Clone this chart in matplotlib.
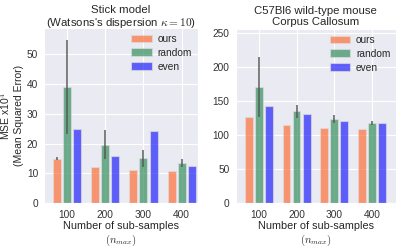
import numpy as np
import matplotlib
matplotlib.use("Agg")
import matplotlib.pyplot as plt
import seaborn as sns

sns.set_style("darkgrid")
plt.rcParams['font.family'] = ['Liberation Sans', 'DejaVu Sans']
plt.rcParams['mathtext.fontset'] = 'cm'

# sample sizes
n_max = ["100", "200", "300", "400"]

# Stick model (values x1e-4)
stick_ours = [15.0, 12.1, 11.3, 10.7]
stick_ours_err = [0.5, 0.0, 0.0, 0.0]
stick_random = [39.0, 19.6, 15.1, 13.4]
stick_random_lo = [23.3, 15.0, 12.3, 12.1]
stick_random_hi = [54.8, 24.6, 17.9, 14.8]
stick_even = [24.8, 16.0, 24.2, 12.5]

# Corpus callosum
cc_ours = [126.5, 115.0, 111.0, 108.8]
cc_random = [170.6, 135.3, 123.5, 118.0]
cc_random_lo = [127.4, 125.4, 117.6, 115.0]
cc_random_hi = [214.7, 144.0, 129.4, 121.0]
cc_even = [143.0, 131.8, 121.0, 118.0]

c_ours = "#ff6a33"
c_random = "#2e8b57"
c_even = "#1a1aff"
alpha = 0.68
w = 0.21
off = 0.265


def draw(ax, ours, ours_err, rnd, lo, hi, even):
    x = np.arange(len(n_max))
    rnd = np.array(rnd)
    rerr = [rnd - np.array(lo), np.array(hi) - rnd]
    ax.bar(x - off, ours, w, color=c_ours, alpha=alpha, label="ours",
           edgecolor="#dddddd", linewidth=0.8, zorder=2)
    ax.bar(x, rnd, w, color=c_random, alpha=alpha, label="random",
           edgecolor="#dddddd", linewidth=0.8, zorder=2)
    ax.bar(x + off, even, w, color=c_even, alpha=alpha, label="even",
           edgecolor="#dddddd", linewidth=0.8, zorder=2)
    if ours_err is not None:
        ax.errorbar(x - off, ours, yerr=ours_err, fmt="none", ecolor="#555555",
                    elinewidth=1.3, alpha=0.8, zorder=3)
    ax.errorbar(x, rnd, yerr=rerr, fmt="none", ecolor="#555555",
                elinewidth=1.3, alpha=0.8, zorder=3)
    ax.set_xticks(x)
    ax.set_xticklabels(n_max)
    ax.set_xlabel("Number of sub-samples\n$(n_{max})$", fontsize=7.8, labelpad=1)
    ax.tick_params(labelsize=7.3, pad=1, labelcolor="#333333")
    ax.legend(loc="upper right", frameon=False, fontsize=7.3,
              handlelength=2.0, handleheight=0.8, borderaxespad=0.15,
              labelspacing=0.38, handletextpad=0.6)


fig = plt.figure(figsize=(4.0, 2.47), dpi=100)
ax1 = fig.add_axes([0.111, 0.177, 0.383, 0.708])
ax2 = fig.add_axes([0.589, 0.177, 0.401, 0.704])

draw(ax1, stick_ours, stick_ours_err, stick_random, stick_random_lo,
     stick_random_hi, stick_even)
ax1.set_xlim(-0.585, 3.415)
ax1.set_ylim(0, 58.7)
ax1.set_yticks([0, 10, 20, 30, 40, 50])
ax1.set_ylabel("MSE x10$^4$\n(Mean Squared Error)", fontsize=7.5, labelpad=2)
ax1.set_title("Stick model\n(Watsons's dispersion $\\kappa = 10$)", fontsize=8.2,
              pad=2, linespacing=1.1)

draw(ax2, cc_ours, None, cc_random, cc_random_lo, cc_random_hi, cc_even)
ax2.set_xlim(-0.61, 3.63)
ax2.set_ylim(0, 256)
ax2.set_yticks([0, 50, 100, 150, 200, 250])
ax2.set_title("C57Bl6 wild-type mouse\nCorpus Callosum", fontsize=8.2,
              pad=3, linespacing=1.1)

fig.savefig("out.png", dpi=100)
